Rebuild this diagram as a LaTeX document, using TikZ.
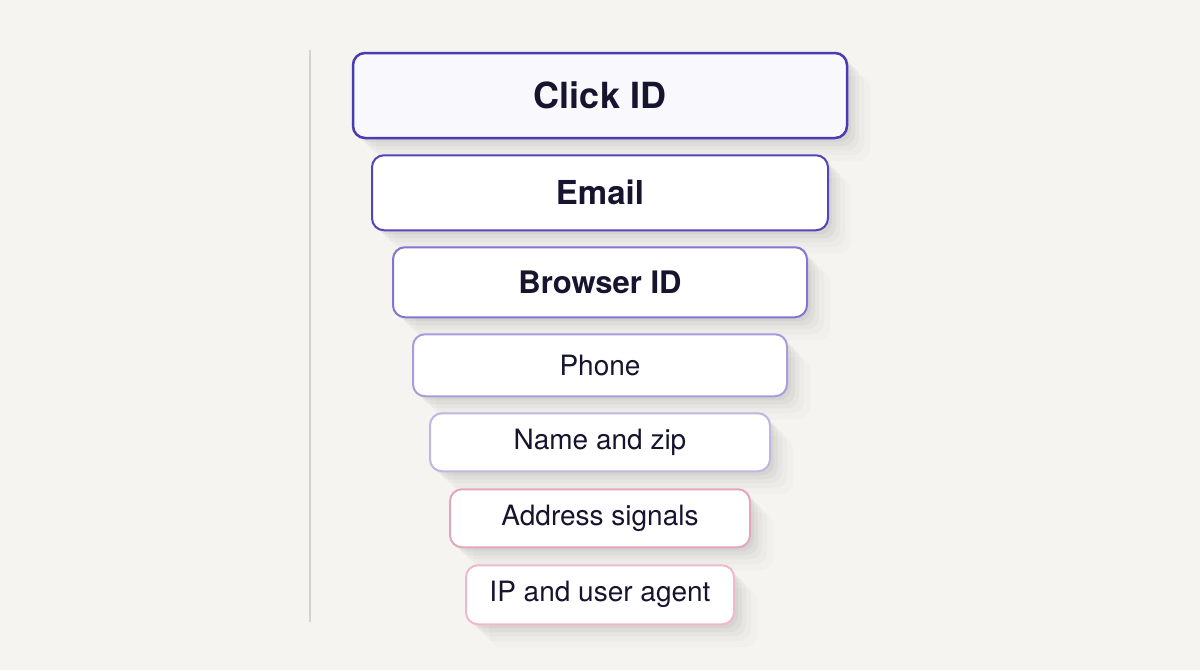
\documentclass[tikz,border=0pt]{standalone}
\usepackage{fontspec}
\setmainfont{TeX Gyre Heros}
\usetikzlibrary{positioning, shadows}
\definecolor{bg}{HTML}{F5F4F1}
\definecolor{ink}{HTML}{16142E}
\definecolor{rimA}{HTML}{4A3AB4}
\definecolor{rimB}{HTML}{5444B8}
\definecolor{rimC}{HTML}{8375D0}
\definecolor{rimD}{HTML}{A79DDA}
\definecolor{rimE}{HTML}{BEB7DF}
\definecolor{rimF}{HTML}{E2A7BE}
\definecolor{rimG}{HTML}{EDB9CB}
\definecolor{rule}{HTML}{D3D1CD}
\tikzstyle{block} = [draw, rectangle, rounded corners=12pt, line width=2pt,
 fill=white, text=ink, align=center, inner sep=0pt,
 drop shadow={shadow xshift=4pt, shadow yshift=-4pt, opacity=0.035, fill=black},
 drop shadow={shadow xshift=8pt, shadow yshift=-8pt, opacity=0.03, fill=black},
 drop shadow={shadow xshift=12pt, shadow yshift=-12pt, opacity=0.025, fill=black},
 drop shadow={shadow xshift=17pt, shadow yshift=-17pt, opacity=0.02, fill=black},
 drop shadow={shadow xshift=23pt, shadow yshift=-23pt, opacity=0.015, fill=black}]
\tikzstyle{big} = [font=\fontsize{36}{40}\selectfont\bfseries]
\tikzstyle{email} = [font=\fontsize{33}{37}\selectfont\bfseries]
\tikzstyle{mid} = [font=\fontsize{31}{35}\selectfont\bfseries]
\tikzstyle{small} = [font=\fontsize{28}{32}\selectfont]
\tikzstyle{line} = [line width=1.5pt, color=rule]

\begin{document}
\begin{tikzpicture}[x=1pt, y=-1pt]

	\fill [bg] (0,0) rectangle (1200,670);

	\draw [line] (310,50) -- (310,622);

	\node [block, big, draw=rimA, fill={rgb:white,30;rimA,1}, line width=2.5pt,
	  minimum width=494pt, minimum height=85pt] (c) at (600,95.5) {Click ID};
	\node [block, email, draw=rimB, minimum width=456pt, minimum height=75pt,
	  below=15pt of c] (e) {Email};
	\node [block, mid, draw=rimC, minimum width=414pt, minimum height=70pt,
	  below=15pt of e] (b) {Browser ID};
	\node [block, small, draw=rimD, minimum width=374pt, minimum height=62pt,
	  below=15pt of b] (p) {Phone};
	\node [block, small, draw=rimE, minimum width=340pt, minimum height=58pt,
	  below=15pt of p] (n) {Name and zip};
	\node [block, small, draw=rimF, minimum width=300pt, minimum height=58pt,
	  below=16pt of n] (a) {Address signals};
	\node [block, small, draw=rimG, minimum width=268pt, minimum height=59pt,
	  below=16pt of a] (i) {IP and user agent};

\end{tikzpicture}
\end{document}
